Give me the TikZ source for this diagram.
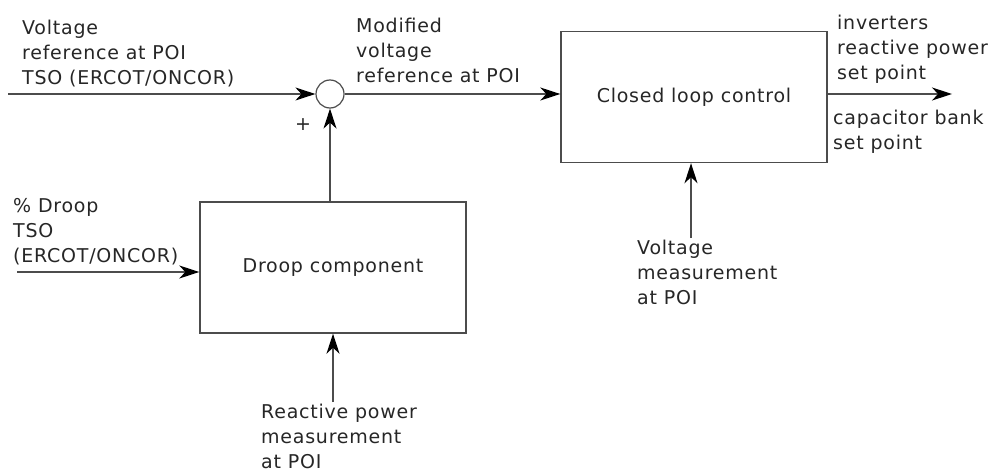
\documentclass[tikz,border=0pt]{standalone}
\usepackage{fontspec}
\setmainfont{DejaVu Sans}[LetterSpace=4]
\usetikzlibrary{arrows.meta}
\begin{document}
\begin{tikzpicture}[x=1pt,y=-1pt,
  every node/.style={font=\fontsize{19}{25}\selectfont, text=black!85},
  conn/.style={draw=black!70, line width=1.4pt, -{Stealth[length=20pt,width=13pt,inset=6pt,black]}},
  blockbox/.style={draw=black!70, line width=1.4pt, minimum width=266pt, minimum height=131pt, inner sep=0pt},
  lbl/.style={inner sep=0pt, text depth=0pt, anchor=south west, align=left},
  sumnode/.style={circle, draw=black!70, line width=1.2pt, minimum size=28pt, inner sep=0pt}]
\useasboundingbox (0,0) rectangle (990,473);

\node[blockbox] (clc) at (694,97) {Closed loop control};
\node[blockbox] (droop) at (333,267.5) {Droop component};
\node[sumnode] (sum) at (330,94) {};

\coordinate (vin) at (8,94);
\coordinate (out) at (952,94);
\coordinate (din) at (17,272);
\coordinate (qm) at (333,402);
\coordinate (vm) at (691,238);

\draw[conn] (vin) -- (sum.west);
\draw[conn] (sum.east) -- (sum.east -| clc.west);
\draw[conn] (clc.east |- out) -- (out);
\draw[conn] (din) -- (din -| droop.west);
\draw[conn] (sum.south |- droop.north) -- (sum.south);
\draw[conn] (qm) -- (qm |- droop.south);
\draw[conn] (vm) -- (vm |- clc.south);

\node[lbl] (t1) at (22,85) {Voltage\\reference at POI\\TSO (ERCOT/ONCOR)};
\node[lbl] (t2) at (356,83) {Modified\\voltage\\reference at POI};
\node[lbl] (t3) at (837,80) {inverters\\reactive power\\set point};
\node[lbl] (t4) at (833,150) {capacitor bank\\set point};
\node[lbl] (t5) at (13,263) {\% Droop\\TSO\\(ERCOT/ONCOR)};
\node[lbl] (t6) at (261,469) {Reactive power\\measurement\\at POI};
\node[lbl] (t7) at (637,305) {Voltage\\measurement\\at POI};
\node[inner sep=0pt] (plus) at (303,125) {+};
\end{tikzpicture}
\end{document}
